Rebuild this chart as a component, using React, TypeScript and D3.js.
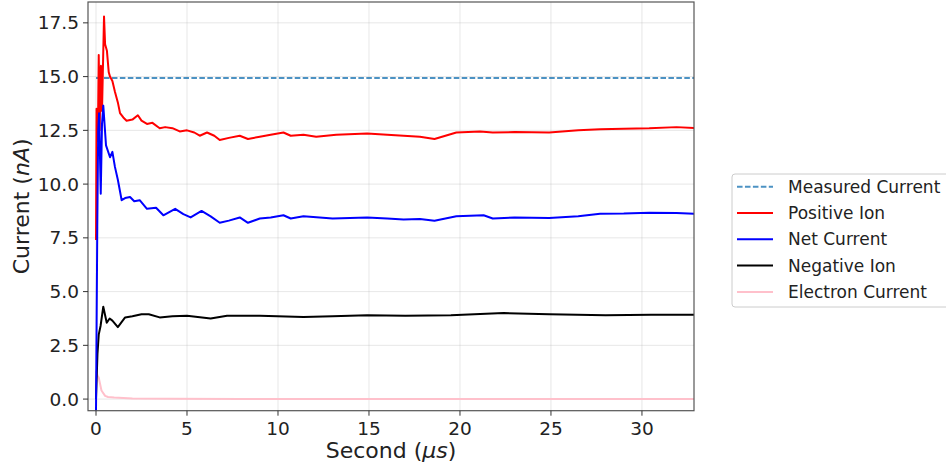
import React from 'react';
import * as d3 from 'd3';

// values (time in microseconds, current in nA)
const measuredT = [0, 33];
const measuredV = [14.93, 14.93];

const posIonT = [0, 0.03, 0.1, 0.15, 0.2, 0.27, 0.33, 0.44, 0.5, 0.6, 0.7, 0.77, 0.9, 1.04, 1.2, 1.32, 1.5, 1.68, 2.0, 2.3, 2.5, 2.8, 3.1, 3.5, 3.8, 4.2, 4.6, 5.0, 5.4, 5.7, 6.1, 6.5, 6.8, 7.3, 7.9, 8.35, 9.0, 9.6, 10.3, 10.7, 11.4, 12.1, 13.2, 14.9, 16.0, 16.9, 17.8, 18.6, 19.2, 19.8, 21.1, 21.8, 23.0, 24.9, 26.5, 27.7, 29.0, 30.4, 31.9, 33];
const posIonV = [7.4, 13.5, 12.0, 16.0, 12.5, 15.5, 13.4, 17.8, 16.5, 16.2, 15.2, 15.0, 14.8, 14.3, 13.8, 13.3, 13.1, 12.95, 13.0, 13.2, 12.95, 12.8, 12.85, 12.6, 12.65, 12.6, 12.45, 12.5, 12.4, 12.25, 12.4, 12.25, 12.05, 12.15, 12.25, 12.1, 12.2, 12.3, 12.4, 12.25, 12.3, 12.2, 12.3, 12.35, 12.3, 12.25, 12.2, 12.1, 12.25, 12.4, 12.45, 12.4, 12.42, 12.4, 12.5, 12.55, 12.58, 12.6, 12.65, 12.6];

const netT = [0, 0.07, 0.12, 0.17, 0.26, 0.33, 0.4, 0.55, 0.77, 0.9, 1.04, 1.2, 1.41, 1.6, 1.87, 2.1, 2.4, 2.8, 3.3, 3.7, 4.35, 4.8, 5.2, 5.8, 6.3, 6.8, 7.3, 7.9, 8.35, 9.0, 9.6, 10.3, 10.7, 11.4, 13.0, 14.9, 16.0, 16.9, 17.8, 18.6, 19.2, 19.8, 21.3, 21.8, 23.0, 24.9, 26.5, 27.7, 29.0, 30.4, 31.9, 33];
const netV = [-0.6, 8.0, 12.5, 13.3, 9.55, 12.8, 13.65, 11.8, 11.25, 11.5, 10.8, 10.2, 9.25, 9.35, 9.4, 9.2, 9.25, 8.85, 8.9, 8.55, 8.85, 8.6, 8.45, 8.75, 8.5, 8.2, 8.3, 8.45, 8.2, 8.4, 8.45, 8.55, 8.4, 8.5, 8.4, 8.45, 8.4, 8.35, 8.38, 8.3, 8.4, 8.5, 8.55, 8.4, 8.45, 8.42, 8.5, 8.62, 8.63, 8.67, 8.66, 8.62];

const negIonT = [0, 0.08, 0.15, 0.25, 0.4, 0.5, 0.59, 0.75, 0.9, 1.2, 1.6, 2.0, 2.5, 2.9, 3.5, 4.2, 5.0, 6.3, 7.2, 9.0, 11.4, 13.0, 14.9, 17.0, 19.5, 22.4, 24.9, 28.0, 30.5, 33];
const negIonV = [0, 2.1, 3.0, 3.4, 4.3, 3.9, 3.55, 3.75, 3.65, 3.35, 3.8, 3.85, 3.95, 3.95, 3.8, 3.85, 3.88, 3.75, 3.88, 3.88, 3.82, 3.85, 3.9, 3.88, 3.9, 4.0, 3.95, 3.9, 3.92, 3.92];

const electronT = [0, 0.08, 0.15, 0.3, 0.5, 0.66, 1.0, 2.0, 4.0, 8.0, 33];
const electronV = [1.3, 1.1, 1.0, 0.4, 0.15, 0.1, 0.07, 0.03, 0.015, 0.005, 0.0];

const xTicks = [0, 5, 10, 15, 20, 25, 30];
const yTicks = [0, 2.5, 5, 7.5, 10, 12.5, 15, 17.5];

const series = [
  { name: 'Measured Current', t: measuredT, v: measuredV, color: '#1f77b4', dash: '5.55 2.4', opacity: 0.8 },
  { name: 'Positive Ion', t: posIonT, v: posIonV, color: '#ff0000', dash: null, opacity: 1 },
  { name: 'Net Current', t: netT, v: netV, color: '#0000ff', dash: null, opacity: 1 },
  { name: 'Negative Ion', t: negIonT, v: negIonV, color: '#000000', dash: null, opacity: 1 },
  { name: 'Electron Current', t: electronT, v: electronV, color: '#ffc0cb', dash: null, opacity: 1 },
];

const W = 946;
const H = 467;
const left = 88, right = 694, top = 2, bottom = 410.7;
const font = 'DejaVu Sans, sans-serif';

export default function App() {
  const x = d3.scaleLinear().domain([-0.44, 32.86]).range([left, right]);
  const y = d3.scaleLinear().domain([-0.54, 18.47]).range([bottom, top]);

  const line = d3.line<[number, number]>()
    .x(d => x(d[0]))
    .y(d => y(d[1]));

  // draw order: measured first, electron last on top? keep legend order, but blue over red
  const drawOrder = [0, 4, 1, 3, 2];

  return (
    <svg width={W} height={H} style={{ position: 'absolute', left: 0, top: 0, background: '#fff' }}>
      <defs>
        <clipPath id="plot">
          <rect x={left} y={top} width={right - left} height={bottom - top} />
        </clipPath>
      </defs>
      <rect x={0} y={0} width={W} height={H} fill="#fff" />

      {/* grid */}
      <g>
        {xTicks.map(t => (
          <line key={'gx' + t} x1={x(t)} x2={x(t)} y1={top} y2={bottom} stroke="#b0b0b0" strokeOpacity={0.3} strokeWidth={1} />
        ))}
        {yTicks.map(t => (
          <line key={'gy' + t} x1={left} x2={right} y1={y(t)} y2={y(t)} stroke="#b0b0b0" strokeOpacity={0.3} strokeWidth={1} />
        ))}
      </g>

      {/* lines */}
      <g clipPath="url(#plot)">
        {drawOrder.map(i => {
          const s = series[i];
          const pts = s.t.map((t, k) => [t, s.v[k]] as [number, number]);
          return (
            <path key={s.name} d={line(pts) || ''} fill="none" stroke={s.color}
              strokeWidth={2} strokeOpacity={s.opacity}
              strokeDasharray={s.dash || undefined} strokeLinejoin="round" />
          );
        })}
      </g>

      {/* spines */}
      <rect x={left} y={top} width={right - left} height={bottom - top} fill="none" stroke="#555" strokeWidth={1.2} />

      {/* x ticks */}
      <g fontFamily={font} fontSize={18.5} fill="#222">
        {xTicks.map(t => (
          <g key={'xt' + t}>
            <line x1={x(t)} x2={x(t)} y1={bottom} y2={bottom + 5} stroke="#333" strokeWidth={1} />
            <text x={x(t)} y={bottom + 24} textAnchor="middle">{t}</text>
          </g>
        ))}
        {yTicks.map(t => (
          <g key={'yt' + t}>
            <line x1={left - 5} x2={left} y1={y(t)} y2={y(t)} stroke="#333" strokeWidth={1} />
            <text x={left - 9} y={y(t)} dy="0.35em" textAnchor="end">{d3.format('.1f')(t)}</text>
          </g>
        ))}
      </g>

      {/* axis labels */}
      <text x={(left + right) / 2} y={458} textAnchor="middle" fontFamily={font} fontSize={22} fill="#222">
        Second (<tspan fontStyle="italic">μs</tspan>)
      </text>
      <text transform={`translate(29, ${(top + bottom) / 2}) rotate(-90)`} textAnchor="middle" fontFamily={font} fontSize={22} fill="#222">
        Current (<tspan fontStyle="italic">nA</tspan>)
      </text>

      {/* legend */}
      <g fontFamily={font} fontSize={17} fill="#222">
        <rect x={732} y={174} width={240} height={133} rx={3} fill="#fff" stroke="#cccccc" strokeWidth={1} />
        {series.map((s, i) => {
          const cy = 186.7 + i * 26.3;
          return (
            <g key={'lg' + s.name}>
              <line x1={737} x2={773} y1={cy} y2={cy} stroke={s.color} strokeWidth={2}
                strokeOpacity={s.opacity} strokeDasharray={s.dash || undefined} />
              <text x={788} y={cy} dy="0.35em">{s.name}</text>
            </g>
          );
        })}
      </g>
    </svg>
  );
}
